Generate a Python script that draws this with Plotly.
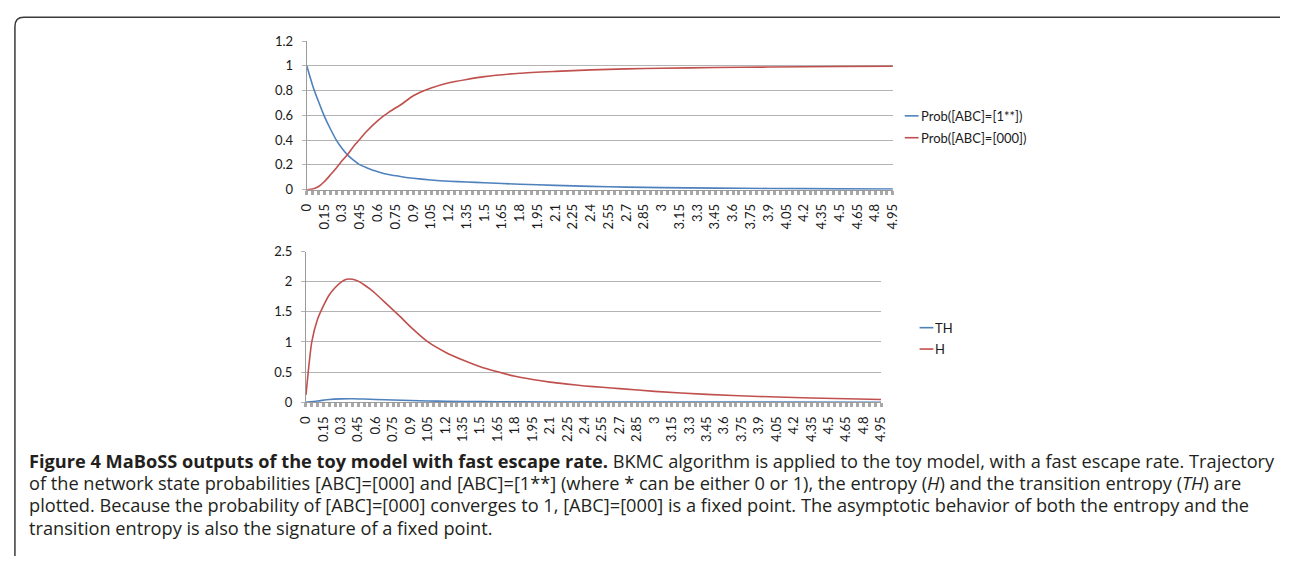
import plotly.graph_objects as go

W, H = 1289, 564

# ---------------- data ----------------
t_prob = [0, 0.05, 0.1, 0.15, 0.2, 0.25, 0.3, 0.35, 0.4, 0.45, 0.5, 0.6, 0.7, 0.8, 0.9,
          1.05, 1.2, 1.35, 1.5, 1.8, 2.1, 2.4, 2.7, 3.0, 3.45, 3.9, 4.5, 4.95]
prob_1xx = [1.0, 0.84, 0.71, 0.59, 0.49, 0.40, 0.33, 0.275, 0.235, 0.20, 0.18, 0.145, 0.12,
            0.105, 0.092, 0.078, 0.068, 0.062, 0.056, 0.044, 0.035, 0.027, 0.021, 0.017,
            0.013, 0.010, 0.007, 0.006]
prob_000 = [0.0, 0.005, 0.026, 0.066, 0.12, 0.176, 0.235, 0.29, 0.355, 0.41, 0.466, 0.558,
            0.63, 0.69, 0.758, 0.82, 0.863, 0.89, 0.913, 0.94, 0.955, 0.967, 0.975, 0.98,
            0.986, 0.99, 0.994, 0.996]

t_H = [0, 0.05, 0.1, 0.15, 0.2, 0.25, 0.3, 0.35, 0.4, 0.45, 0.5, 0.55, 0.6, 0.7, 0.8, 0.9,
       1.05, 1.2, 1.35, 1.5, 1.65, 1.8, 1.95, 2.1, 2.25, 2.4, 2.55, 2.7, 3.0, 3.45, 3.9,
       4.35, 4.95]
H_vals = [0.12, 1.0, 1.38, 1.60, 1.78, 1.90, 1.99, 2.04, 2.04, 2.01, 1.95, 1.88, 1.80, 1.62,
          1.44, 1.25, 1.0, 0.83, 0.70, 0.59, 0.505, 0.43, 0.376, 0.333, 0.30, 0.27, 0.247,
          0.225, 0.18, 0.13, 0.095, 0.07, 0.045]

t_TH = [0, 0.1, 0.2, 0.3, 0.4, 0.5, 0.6, 0.75, 0.9, 1.05, 1.2, 1.5, 1.8, 2.4, 3.0, 4.0, 4.95]
TH_vals = [0.0, 0.02, 0.045, 0.055, 0.057, 0.052, 0.045, 0.037, 0.028, 0.02, 0.015, 0.009,
           0.005, 0.002, 0.001, 0.0005, 0.0002]

tick_vals = [0, 0.15, 0.3, 0.45, 0.6, 0.75, 0.9, 1.05, 1.2, 1.35, 1.5, 1.65, 1.8, 1.95, 2.1,
             2.25, 2.4, 2.55, 2.7, 2.85, 3.0, 3.15, 3.3, 3.45, 3.6, 3.75, 3.9, 4.05, 4.2,
             4.35, 4.5, 4.65, 4.8, 4.95]
tick_text = ["0", "0.15", "0.3", "0.45", "0.6", "0.75", "0.9", "1.05", "1.2", "1.35", "1.5",
             "1.65", "1.8", "1.95", "2.1", "2.25", "2.4", "2.55", "2.7", "2.85", "3", "3.15",
             "3.3", "3.45", "3.6", "3.75", "3.9", "4.05", "4.2", "4.35", "4.5", "4.65", "4.8",
             "4.95"]

legend_top = ["Prob([ABC]=[1**])", "Prob([ABC]=[000])"]
legend_bottom = ["TH", "H"]

caption_lines = [
    "<b>Figure 4 MaBoSS outputs of the toy model with fast escape rate.</b> BKMC algorithm is applied to the toy model, with a fast escape rate. Trajectory",
    "of the network state probabilities [ABC]=[000] and [ABC]=[1**] (where * can be either 0 or 1), the entropy (<i>H</i>) and the transition entropy (<i>TH</i>) are",
    "plotted. Because the probability of [ABC]=[000] converges to 1, [ABC]=[000] is a fixed point. The asymptotic behavior of both the entropy and the",
    "transition entropy is also the signature of a fixed point.",
]

BLUE = "#4F81BD"
RED = "#C0504D"
GRID = "#B3B3B3"
AXIS = "#9A9A9A"
TICKFONT = dict(family="Lato", size=13, color="#1a1a1a")


def px(x):
    return x / W


def py(y):
    return 1 - y / H


fig = go.Figure()
LW = 1.6
fig.add_trace(go.Scatter(x=t_prob, y=prob_1xx, mode="lines", line=dict(color=BLUE, width=LW, shape="spline", smoothing=0.6),
                         xaxis="x", yaxis="y", showlegend=False))
fig.add_trace(go.Scatter(x=t_prob, y=prob_000, mode="lines", line=dict(color=RED, width=LW, shape="spline", smoothing=0.6),
                         xaxis="x", yaxis="y", showlegend=False))
fig.add_trace(go.Scatter(x=t_TH, y=TH_vals, mode="lines", line=dict(color=BLUE, width=LW, shape="spline", smoothing=0.6),
                         xaxis="x2", yaxis="y2", showlegend=False))
fig.add_trace(go.Scatter(x=t_H, y=H_vals, mode="lines", line=dict(color=RED, width=LW, shape="spline", smoothing=0.6),
                         xaxis="x2", yaxis="y2", showlegend=False))


def xax(domain, anchor):
    return dict(domain=domain, anchor=anchor, range=[0, 4.95], tickmode="array",
                tickvals=tick_vals, ticktext=tick_text, tickangle=-90, tickfont=TICKFONT,
                showgrid=False, zeroline=False, showline=True, linecolor=AXIS, linewidth=1,
                ticks="outside", ticklen=4, tickcolor="#A8A8A8", tickwidth=2.5, ticklabelstandoff=4,
                minor=dict(ticks="outside", ticklen=4, tickcolor="#A8A8A8", tickwidth=2.5, tick0=0, dtick=0.05))


def yax(domain, anchor, rng, dt):
    return dict(domain=domain, anchor=anchor, range=rng, dtick=dt, tick0=0, tickfont=TICKFONT,
                showgrid=True, gridcolor=GRID, gridwidth=1, zeroline=False, showline=True,
                linecolor=AXIS, linewidth=1, ticks="outside", ticklen=4, tickcolor=GRID,
                ticklabelstandoff=6)


fig.update_layout(
    width=W, height=H, margin=dict(l=0, r=0, t=0, b=0),
    paper_bgcolor="white", plot_bgcolor="white",
    xaxis=xax([px(301.5), px(895)], "y"),
    yaxis=yax([py(187), py(34)], "x", [0, 1.2], 0.2),
    xaxis2=xax([px(300.7), px(883)], "y2"),
    yaxis2=yax([py(405.7), py(250.7)], "x2", [0, 2.5], 0.5),
)

shapes = []
annotations = []
LEGFONT = dict(family="Lato", size=13, color="#1a1a1a")

for i, (name, col) in enumerate(zip(legend_top, [BLUE, RED])):
    yy = 111 + i * 22.5
    shapes.append(dict(type="line", xref="paper", yref="paper", x0=px(907), x1=px(921), y0=py(yy), y1=py(yy),
                       line=dict(color=col, width=1.6)))
    annotations.append(dict(xref="paper", yref="paper", x=px(921), y=py(yy), text=name, showarrow=False,
                            xanchor="left", yanchor="middle", font=LEGFONT))

for i, (name, col) in enumerate(zip(legend_bottom, [BLUE, RED])):
    yy = 329 + i * 22
    shapes.append(dict(type="line", xref="paper", yref="paper", x0=px(922), x1=px(936), y0=py(yy), y1=py(yy),
                       line=dict(color=col, width=1.6)))
    annotations.append(dict(xref="paper", yref="paper", x=px(936), y=py(yy), text=name, showarrow=False,
                            xanchor="left", yanchor="middle", font=LEGFONT))

# frame with rounded corner
shapes.append(dict(type="path", xref="paper", yref="paper",
                   path=f"M {px(6)},{py(564)} L {px(6)},{py(19)} Q {px(6)},{py(9.5)} {px(15)},{py(9.5)} L {px(1287)},{py(9.5)}",
                   line=dict(color="#3a3a3a", width=1.5)))

CAPFONT = dict(family="Open Sans", size=18.2, color="#231F20")
for i, line in enumerate(caption_lines):
    annotations.append(dict(xref="paper", yref="paper", x=px(18), y=py(466 + i * 23), text=line, showarrow=False,
                            xanchor="left", yanchor="middle", align="left", font=CAPFONT))

fig.update_layout(shapes=shapes, annotations=annotations)
fig.write_html("out.html", config={"displayModeBar": False},
               post_script="document.body.style.margin='0';document.body.style.overflow='hidden';")
